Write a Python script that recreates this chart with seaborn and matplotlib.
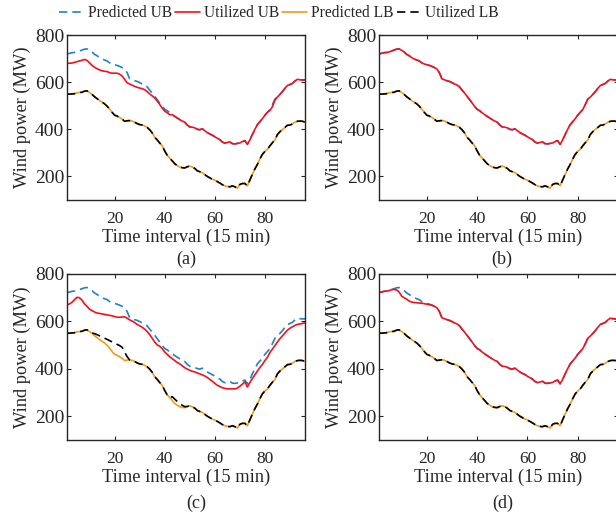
import numpy as np
import pandas as pd
import matplotlib
matplotlib.use("Agg")
import matplotlib.pyplot as plt
import seaborn as sns

# ---------------- data ----------------
t = list(range(1, 97))

predicted_ub = [720, 722, 725, 726, 728, 732, 736, 740, 741, 735,
                728, 718, 712, 704, 698, 694, 690, 682, 677, 674,
                671, 667, 662, 656, 640, 614, 610, 606, 603, 598,
                592, 588, 580, 566, 554, 540, 526, 512, 497, 485,
                479, 470, 462, 455, 448, 441, 435, 430, 418, 410,
                409, 406, 400, 398, 402, 394, 386, 380, 375, 368,
                362, 356, 346, 341, 344, 347, 339, 338, 340, 342,
                348, 352, 336, 355, 378, 400, 420, 432, 445, 460,
                472, 484, 505, 528, 537, 548, 560, 574, 586, 590,
                595, 605, 612, 610, 609, 610]

predicted_lb = [550, 549, 550, 551, 555, 556, 557, 562, 563, 556,
                548, 538, 530, 522, 515, 508, 498, 486, 472, 460,
                456, 450, 443, 434, 436, 437, 435, 430, 424, 420,
                418, 414, 408, 398, 385, 366, 355, 342, 330, 308,
                290, 278, 266, 254, 246, 240, 237, 236, 241, 244,
                240, 234, 224, 220, 216, 208, 200, 194, 188, 184,
                178, 172, 165, 160, 157, 156, 160, 156, 150, 166,
                170, 170, 160, 185, 209, 232, 251, 274, 294, 306,
                315, 330, 343, 355, 378, 390, 399, 408, 417, 418,
                423, 430, 434, 435, 434, 430]

utilized_ub_a = [680, 680, 681, 684, 687, 690, 693, 696, 692, 682,
                 671, 663, 657, 652, 648, 646, 645, 640, 638, 638,
                 638, 634, 626, 612, 597, 592, 587, 582, 578, 575,
                 572, 568, 560, 550, 542, 533, 520, 505, 490, 477,
                 470, 462, 462, 455, 448, 441, 435, 430, 418, 410,
                 409, 406, 400, 398, 402, 394, 386, 380, 375, 368,
                 362, 356, 346, 341, 344, 347, 339, 338, 340, 342,
                 348, 352, 336, 355, 378, 400, 420, 432, 445, 460,
                 472, 480, 496, 524, 537, 548, 560, 574, 586, 590,
                 595, 605, 612, 610, 609, 610]

utilized_ub_b = predicted_ub

utilized_ub_c = [668, 672, 679, 690, 700, 698, 688, 672, 662, 650,
                 644, 638, 634, 632, 630, 628, 626, 624, 622, 619,
                 616, 616, 617, 618, 612, 605, 600, 594, 586, 580,
                 574, 566, 556, 543, 528, 512, 500, 494, 484, 470,
                 460, 450, 442, 434, 426, 420, 412, 404, 398, 393,
                 389, 386, 382, 378, 374, 369, 363, 355, 347, 338,
                 330, 325, 320, 317, 315, 315, 315, 315, 318, 326,
                 335, 345, 323, 342, 358, 374, 390, 405, 418, 434,
                 448, 468, 482, 497, 512, 526, 538, 550, 562, 570,
                 576, 582, 586, 588, 590, 593]

utilized_ub_d = [720, 722, 725, 726, 728, 732, 733, 731, 722, 705,
                 698, 692, 684, 680, 678, 677, 676, 675, 673, 671,
                 669, 667, 662, 656, 640, 614, 610, 606, 603, 598,
                 592, 588, 580, 566, 554, 540, 526, 512, 497, 485,
                 479, 470, 462, 455, 448, 441, 435, 430, 418, 410,
                 409, 406, 400, 398, 402, 394, 386, 380, 375, 368,
                 362, 356, 346, 341, 344, 347, 339, 338, 340, 342,
                 348, 352, 336, 355, 378, 400, 420, 432, 445, 460,
                 472, 484, 505, 528, 537, 548, 560, 574, 586, 590,
                 595, 605, 612, 610, 609, 610]

utilized_lb_a = predicted_lb
utilized_lb_b = predicted_lb
utilized_lb_d = predicted_lb

utilized_lb_c = [550, 549, 550, 551, 555, 556, 557, 562, 563, 556,
                 550, 547, 543, 538, 533, 528, 523, 518, 512, 507,
                 502, 497, 490, 470, 450, 437, 435, 430, 424, 420,
                 418, 414, 408, 398, 385, 366, 355, 342, 330, 308,
                 290, 278, 282, 272, 262, 253, 246, 240, 241, 244,
                 240, 234, 224, 220, 216, 208, 200, 194, 188, 184,
                 178, 172, 165, 160, 157, 156, 160, 156, 150, 166,
                 170, 170, 160, 185, 209, 232, 251, 274, 294, 306,
                 315, 330, 343, 355, 378, 390, 399, 408, 417, 418,
                 423, 430, 434, 435, 434, 430]

panel_labels = ["(a)", "(b)", "(c)", "(d)"]
series_names = ["Predicted UB", "Utilized UB", "Predicted LB", "Utilized LB"]
x_ticks = [20, 40, 60, 80]
y_ticks = [200, 400, 600, 800]

panels = [
    (utilized_ub_a, utilized_lb_a),
    (utilized_ub_b, utilized_lb_b),
    (utilized_ub_c, utilized_lb_c),
    (utilized_ub_d, utilized_lb_d),
]

# ---------------- style ----------------
sns.set_style("ticks")
plt.rcParams["font.family"] = ["Liberation Serif", "DejaVu Serif"]
plt.rcParams["font.size"] = 12
plt.rcParams["xtick.direction"] = "in"
plt.rcParams["ytick.direction"] = "in"
plt.rcParams["axes.linewidth"] = 1.0

c_blue = "#1f80cc"
c_red = "#f5101a"
c_orange = "#f29a1f"
c_black = "#000000"
dash = (0, (5, 3))
txt = "#262626"

W, H = 616, 516
fig = plt.figure(figsize=(W / 100, H / 100), dpi=100)

# axes boxes in pixels: left, top, right, bottom
boxes = [(67, 35, 305, 200), (379, 35, 618, 200),
         (67, 273.5, 305, 440), (379, 273.5, 618, 440)]
label_pos = [(186, 259), (502, 259), (196, 503), (503, 503)]

handles = None
for i, ((ub_u, lb_u), (l, tp, r, b)) in enumerate(zip(panels, boxes)):
    ax = fig.add_axes([l / W, 1 - b / H, (r - l) / W, (b - tp) / H])
    df = pd.DataFrame({"t": t, "pub": predicted_ub, "uub": ub_u,
                       "plb": predicted_lb, "ulb": lb_u})
    sns.lineplot(data=df, x="t", y="pub", ax=ax, color=c_blue, lw=1.2,
                 linestyle=dash, label=series_names[0])
    sns.lineplot(data=df, x="t", y="uub", ax=ax, color=c_red, lw=1.2,
                 label=series_names[1])
    sns.lineplot(data=df, x="t", y="plb", ax=ax, color=c_orange, lw=1.2,
                 label=series_names[2])
    sns.lineplot(data=df, x="t", y="ulb", ax=ax, color=c_black, lw=1.2,
                 linestyle=dash, label=series_names[3])
    if handles is None:
        handles, labels = ax.get_legend_handles_labels()
    ax.get_legend().remove()
    ax.set_xlim(1, 96)
    ax.set_ylim(100, 800)
    ax.set_xticks(x_ticks)
    ax.set_yticks(y_ticks)
    ax.tick_params(top=True, right=True, length=3, width=0.8, colors=txt)
    ax.tick_params(axis="x", labelsize=12.5, pad=8)
    ax.tick_params(axis="y", labelsize=14, pad=2)
    for s in ax.spines.values():
        s.set_visible(True)
        s.set_color(txt)
    ax.set_xlabel("Time interval (15 min)", fontsize=13.2, labelpad=1,
                  color=txt)
    ax.set_ylabel("Wind power (MW)", fontsize=13.2, labelpad=3, color=txt)
    lx, ly = label_pos[i]
    fig.text(lx / W, 1 - ly / H, panel_labels[i], ha="center", va="center",
             fontsize=13, color=txt)

fig.legend(handles, labels, loc="center", ncol=4,
           bbox_to_anchor=(279 / W, 1 - 13 / H), frameon=False,
           handlelength=1.6, handletextpad=0.25, columnspacing=0.2,
           fontsize=11.2, borderpad=0.1, labelcolor=txt)

fig.savefig("out.png", dpi=100)
